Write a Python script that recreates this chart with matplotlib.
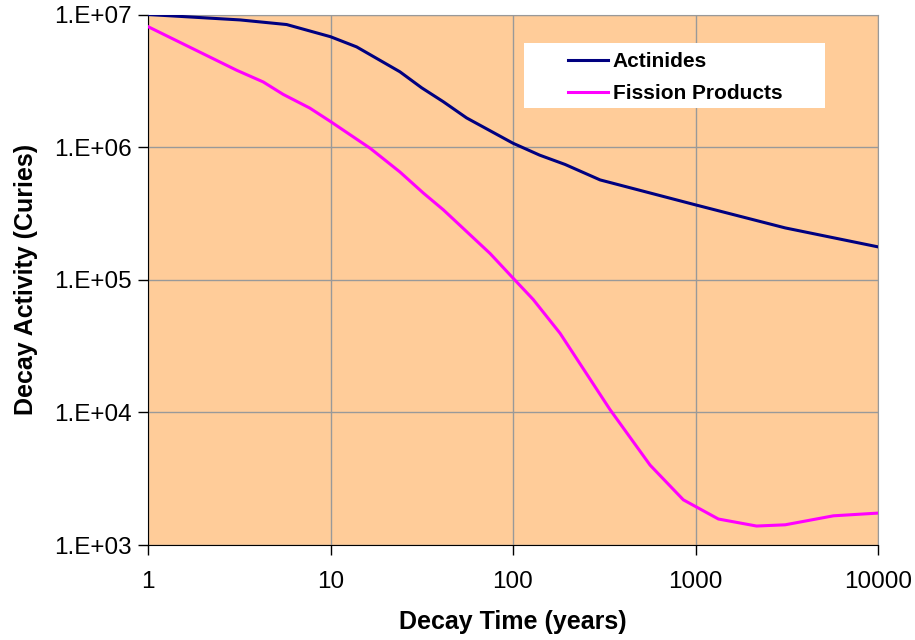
import matplotlib
matplotlib.use("Agg")
import matplotlib.pyplot as plt
from matplotlib.patches import Rectangle
from matplotlib.ticker import FixedLocator, NullLocator

plt.rcParams['font.family'] = ['Liberation Sans', 'DejaVu Sans']

# Actinides decay activity (Curies) vs time (years)
act_t = [1, 3.2, 5.75, 10, 13.9, 24, 31.6, 41.5, 55.7, 100, 140, 193, 300, 1000, 3100, 10000]
act_c = [1.0e7, 9.1e6, 8.4e6, 6.8e6, 5.7e6, 3.7e6, 2.8e6, 2.2e6, 1.66e6, 1.07e6, 8.7e5, 7.4e5, 5.66e5, 3.67e5, 2.46e5, 1.77e5]

# Fission products
fp_t = [1, 3.06, 4.28, 5.5, 7.7, 10, 16.5, 24, 32.3, 41.5, 74.8, 100, 129, 181, 340, 564, 858, 1335, 2160, 3100, 5700, 10000]
fp_c = [8.1e6, 3.8e6, 3.1e6, 2.5e6, 1.97e6, 1.56e6, 9.8e5, 6.5e5, 4.5e5, 3.37e5, 1.58e5, 1.03e5, 7.1e4, 3.95e4, 1.05e4,
        4.0e3, 2.19e3, 1.57e3, 1.39e3, 1.42e3, 1.66e3, 1.74e3]

x_ticks = [1, 10, 100, 1000, 10000]
x_labels = ['1', '10', '100', '1000', '10000']
y_ticks = [1e3, 1e4, 1e5, 1e6, 1e7]
y_labels = ['1.E+03', '1.E+04', '1.E+05', '1.E+06', '1.E+07']

W, H = 915, 640
fig = plt.figure(figsize=(W / 100, H / 100), dpi=100)
ax = fig.add_axes([148 / W, 95 / H, 730 / W, 530.5 / H])
ax.set_facecolor('#FFCC99')

ax.plot(act_t, act_c, color='#000080', lw=2.2, label='Actinides', zorder=3)
ax.plot(fp_t, fp_c, color='#FF00FF', lw=2.2, label='Fission Products', zorder=3)

ax.set_xscale('log')
ax.set_yscale('log')
ax.set_xlim(1, 10000)
ax.set_ylim(1e3, 1e7)
ax.xaxis.set_major_locator(FixedLocator(x_ticks))
ax.yaxis.set_major_locator(FixedLocator(y_ticks))
ax.xaxis.set_minor_locator(NullLocator())
ax.yaxis.set_minor_locator(NullLocator())
ax.set_xticklabels(x_labels, fontsize=17.5)
ax.set_yticklabels(y_labels, fontsize=17.5)
ax.tick_params(axis='x', length=7, width=1, color='black', pad=12)
ax.tick_params(axis='y', length=7, width=1, color='black', pad=5)

ax.grid(True, color='#999999', lw=1)
ax.set_axisbelow(True)
for side in ['top', 'right']:
    ax.spines[side].set_color('#999999')
for side in ['left', 'bottom']:
    ax.spines[side].set_color('black')

ax.set_xlabel('Decay Time (years)', fontsize=18, fontweight='bold', labelpad=12)
ax.set_ylabel('Decay Activity (Curies)', fontsize=18, fontweight='bold', labelpad=11)

# white legend box
ax.add_patch(Rectangle((524 / W, 1 - 108 / H), 301 / W, 65 / H, transform=fig.transFigure,
                       facecolor='white', edgecolor='none', zorder=5))
leg = ax.legend(loc='upper left', bbox_to_anchor=(568 / W, 1 - 52 / H), bbox_transform=fig.transFigure,
                frameon=False, prop={'weight': 'bold', 'size': 15}, handlelength=1.9,
                handletextpad=0.25, borderpad=0, labelspacing=0.62, borderaxespad=0)
leg.set_zorder(6)

fig.savefig('out.png', dpi=100)
